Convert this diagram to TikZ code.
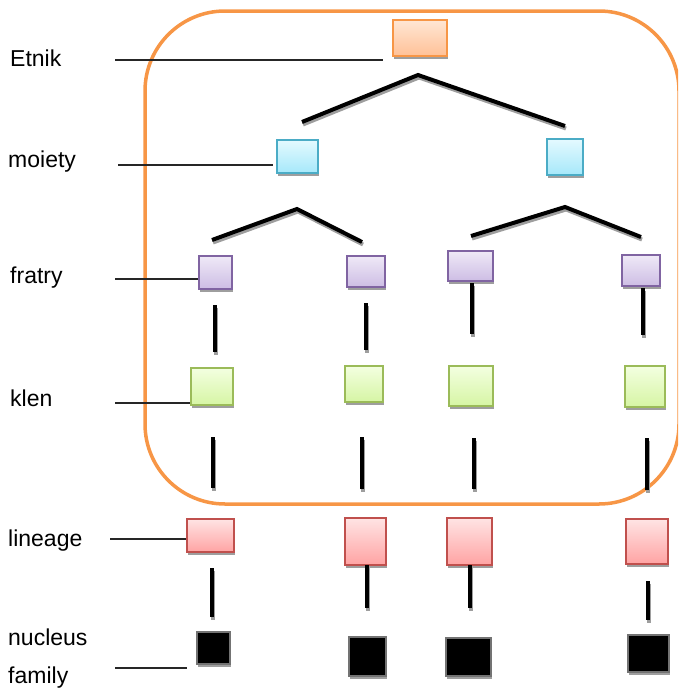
\documentclass[tikz,border=0pt]{standalone}
\usepackage{fontspec}
\setmainfont{Liberation Sans}
\usetikzlibrary{shadows}

\definecolor{frameorange}{HTML}{F79646}
\definecolor{orgline}{HTML}{F79646}
\definecolor{orgtop}{HTML}{FFE6D4}
\definecolor{orgbot}{HTML}{FFC197}
\definecolor{bluline}{HTML}{4BACC6}
\definecolor{blutop}{HTML}{E4FAFF}
\definecolor{blubot}{HTML}{A6E8FA}
\definecolor{purline}{HTML}{8064A2}
\definecolor{purtop}{HTML}{EFE9F7}
\definecolor{purbot}{HTML}{CDBDE4}
\definecolor{grnline}{HTML}{9BBB59}
\definecolor{grntop}{HTML}{F3FFE0}
\definecolor{grnbot}{HTML}{D6F5A4}
\definecolor{redline}{HTML}{C0504D}
\definecolor{redtop}{HTML}{FFE4E4}
\definecolor{redbot}{HTML}{FFA3A3}

\begin{document}
\begin{tikzpicture}[x=1pt,y=-1pt,
  box/.style={rectangle, inner sep=0pt, line width=1.2pt,
    drop shadow={shadow xshift=1pt, shadow yshift=-3pt, fill=black!38, opacity=1}},
  etnikbox/.style={box, draw=orgline, top color=orgtop, bottom color=orgbot},
  moietybox/.style={box, draw=bluline, top color=blutop, bottom color=blubot},
  fratrybox/.style={box, draw=purline, top color=purtop, bottom color=purbot},
  klenbox/.style={box, draw=grnline, top color=grntop, bottom color=grnbot},
  lineagebox/.style={box, draw=redline, top color=redtop, bottom color=redbot},
  familybox/.style={box, draw=black!55, fill=black},
  lbl/.style={inner sep=0pt, anchor=base west, font=\fontsize{23}{27}\selectfont},
  lblline/.style={line width=1.5pt, black!85},
  treeline/.style={line width=4pt, black,
    preaction={draw=black!38, line width=4pt, transform canvas={shift={(1pt,-2.5pt)}}}}
]
\useasboundingbox (0,0) rectangle (678,688);
\clip (0,0) rectangle (678,688);

% frame round the upper levels
\draw[frameorange, line width=3.5pt, rounded corners=80pt] (145,11) rectangle (679,504);

% level labels
\node[lbl] (tEtnik) at (10,66) {Etnik};
\node[lbl] (tMoiety) at (8,167) {moiety};
\node[lbl] (tFratry) at (10,283) {fratry};
\node[lbl] (tKlen) at (10,406) {klen};
\node[lbl] (tLineage) at (8,546) {lineage};
\node[lbl] (tNucleus) at (8,645) {nucleus};
\node[lbl] (tFamily) at (8,683) {family};

% boxes
\node[etnikbox, minimum width=54pt, minimum height=36pt] (E) at (420,38) {};

\node[moietybox, minimum width=41pt, minimum height=33pt] (M1) at (297.5,156.5) {};
\node[moietybox, minimum width=36pt, minimum height=36pt] (M2) at (565,157) {};

\node[fratrybox, minimum width=33pt, minimum height=33pt] (F1) at (215.5,272.5) {};
\node[fratrybox, minimum width=38pt, minimum height=31pt] (F2) at (366,271.5) {};
\node[fratrybox, minimum width=45pt, minimum height=30pt] (F3) at (470.5,266) {};
\node[fratrybox, minimum width=38pt, minimum height=31pt] (F4) at (641,270.5) {};

\node[klenbox, minimum width=42pt, minimum height=37pt] (K1) at (212,386.5) {};
\node[klenbox, minimum width=38pt, minimum height=36pt] (K2) at (364,384) {};
\node[klenbox, minimum width=44pt, minimum height=40pt] (K3) at (471,386) {};
\node[klenbox, minimum width=40pt, minimum height=41pt] (K4) at (645,386.5) {};

\node[lineagebox, minimum width=47pt, minimum height=33pt] (L1) at (210.5,535.5) {};
\node[lineagebox, minimum width=41pt, minimum height=47pt] (L2) at (365.5,541.5) {};
\node[lineagebox, minimum width=45pt, minimum height=47pt] (L3) at (469.5,541.5) {};
\node[lineagebox, minimum width=42pt, minimum height=45pt] (L4) at (647,541.5) {};

\node[familybox, minimum width=33pt, minimum height=32pt] (N1) at (213.5,648) {};
\node[familybox, minimum width=37pt, minimum height=39pt] (N2) at (367.5,656.5) {};
\node[familybox, minimum width=45pt, minimum height=38pt] (N3) at (468.5,657) {};
\node[familybox, minimum width=41pt, minimum height=37pt] (N4) at (648.5,653.5) {};

% label leaders
\coordinate (aE) at (115,60);   \coordinate (bE) at (383,60);
\coordinate (aM) at (118,165);  \coordinate (bM) at (273,165);
\coordinate (aF) at (115,279);  \coordinate (aK) at (115,403);
\coordinate (aL) at (110,539);  \coordinate (aN) at (115,668);
\coordinate (bN) at (187,668);
\draw[lblline] (aE) -- (bE);
\draw[lblline] (aM) -- (bM);
\draw[lblline] (aF) -- (aF -| F1.west);
\draw[lblline] (aK) -- (aK -| K1.west);
\draw[lblline] (aL) -- (aL -| L1.west);
\draw[lblline] (aN) -- (bN);

% branching between levels
\coordinate (e0) at (418,75);  \coordinate (e1) at (302,122); \coordinate (e2) at (565,126);
\coordinate (m0) at (297,209); \coordinate (m1) at (212,240); \coordinate (m2) at (362,242);
\coordinate (n0) at (565,207); \coordinate (n1) at (471,236); \coordinate (n2) at (641,237);
\draw[treeline] (e1) -- (e0) -- (e2);
\draw[treeline] (m1) -- (m0) -- (m2);
\draw[treeline] (n1) -- (n0) -- (n2);

% fratry to klen
\coordinate (fk1a) at (215,305); \coordinate (fk1b) at (215,352);
\coordinate (fk2a) at (366,303); \coordinate (fk2b) at (366,350);
\coordinate (fk3a) at (472,283); \coordinate (fk3b) at (472,334);
\coordinate (fk4a) at (643,288); \coordinate (fk4b) at (643,335);
\draw[treeline] (fk1a) -- (fk1b);
\draw[treeline] (fk2a) -- (fk2b);
\draw[treeline] (fk3a) -- (fk3b);
\draw[treeline] (fk4a) -- (fk4b);

% klen to lineage
\coordinate (kl1a) at (213,437); \coordinate (kl1b) at (213,488);
\coordinate (kl2a) at (362,437); \coordinate (kl2b) at (362,489);
\coordinate (kl3a) at (474,438); \coordinate (kl3b) at (474,489);
\coordinate (kl4a) at (647,438); \coordinate (kl4b) at (647,490);
\draw[treeline] (kl1a) -- (kl1b);
\draw[treeline] (kl2a) -- (kl2b);
\draw[treeline] (kl3a) -- (kl3b);
\draw[treeline] (kl4a) -- (kl4b);

% lineage to nucleus family
\coordinate (ln1a) at (212,568); \coordinate (ln1b) at (212,617);
\coordinate (ln2a) at (367,565); \coordinate (ln2b) at (367,608);
\coordinate (ln3a) at (470,565); \coordinate (ln3b) at (470,608);
\coordinate (ln4a) at (648,581); \coordinate (ln4b) at (648,620);
\draw[treeline] (ln1a) -- (ln1b);
\draw[treeline] (ln2a) -- (ln2b);
\draw[treeline] (ln3a) -- (ln3b);
\draw[treeline] (ln4a) -- (ln4b);
\end{tikzpicture}
\end{document}
